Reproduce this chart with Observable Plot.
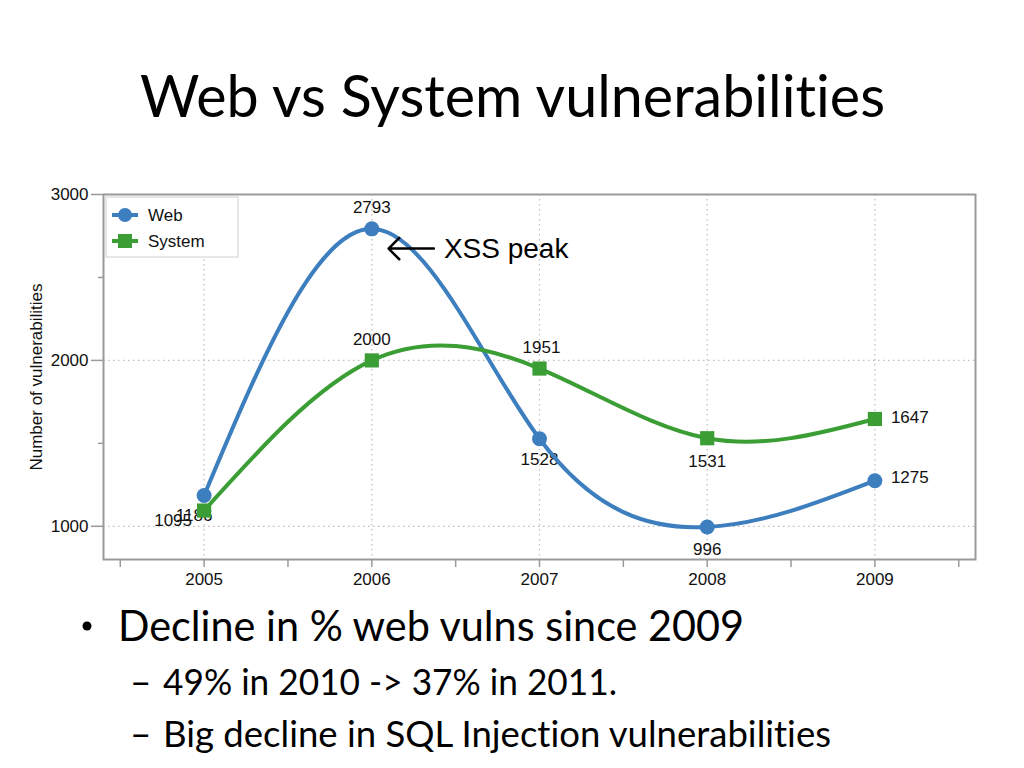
<!DOCTYPE html>
<html>
<head>
<meta charset="utf-8">
<script src="https://cdn.jsdelivr.net/npm/d3@7"></script>
<script src="https://cdn.jsdelivr.net/npm/@observablehq/plot@0.6"></script>
<style>
  html, body { margin: 0; padding: 0; background: #fff; }
  #page { position: relative; width: 1024px; height: 768px; overflow: hidden; background: #fff; }
  #chart { position: absolute; left: 0; top: 180px; }
  #overlay { position: absolute; left: 0; top: 0; pointer-events: none; font-variant-ligatures: none; }
  #chart svg text { font-variant-ligatures: none; }
  #chart g[aria-label="x-axis tick label"], #chart g[aria-label="y-axis tick label"], #chart g[aria-label="y-axis label"] { font-size: 17px; }
</style>
</head>
<body>
<div id="page">
  <div id="chart"></div>
  <svg id="overlay" width="1024" height="768"></svg>
</div>
<script>
// ---- data ----
const years = [2005, 2006, 2007, 2008, 2009];
const seriesNames = ["Web", "System"];
const webValues = [1186, 2793, 1528, 996, 1275];
const systemValues = [1095, 2000, 1951, 1531, 1647];
const xTickValues = [2004.5, 2005, 2005.5, 2006, 2006.5, 2007, 2007.5, 2008, 2008.5, 2009, 2009.5];
const yMajorTicks = [1000, 2000, 3000];
const yMinorTicks = [1500, 2500];
const gridYValues = [1000, 2000];
const titleText = "Web vs System vulnerabilities";
const yAxisTitle = "Number of vulnerabilities";
const annotationText = "XSS peak";
const annotationYears = [2006.37, 2006.1];   // arrow tail, arrow head
const annotationValue = 2674;
const bulletMain = "Decline in % web vulns since 2009";
const bulletSubs = ["49% in 2010 -> 37% in 2011.", "Big decline in SQL Injection vulnerabilities"];

// ---- styles ----
const colors = {Web: "#3d7ebf", System: "#3a9e35"};
const labelOffsets = {
  "Web-2005": {dx: -10, dy: 20, anchor: "middle"},
  "System-2005": {dx: -31, dy: 10, anchor: "middle"},
  "Web-2006": {dx: 0, dy: -21, anchor: "middle"},
  "System-2006": {dx: 0, dy: -21, anchor: "middle"},
  "Web-2007": {dx: 0, dy: 21, anchor: "middle"},
  "System-2007": {dx: 2, dy: -21, anchor: "middle"},
  "Web-2008": {dx: 0, dy: 23, anchor: "middle"},
  "System-2008": {dx: 0, dy: 23, anchor: "middle"},
  "Web-2009": {dx: 16, dy: -3, anchor: "start"},
  "System-2009": {dx: 16, dy: -1, anchor: "start"}
};

const rows = years.flatMap((year, i) => [
  {series: "Web", year, value: webValues[i]},
  {series: "System", year, value: systemValues[i]}
]);
const webRows = rows.filter(d => d.series === "Web");
const sysRows = rows.filter(d => d.series === "System");

const labelMarks = rows.map(r => {
  const o = labelOffsets[`${r.series}-${r.year}`];
  return Plot.text([r], {x: "year", y: "value", text: d => String(d.value),
    dx: o.dx, dy: o.dy, textAnchor: o.anchor, fill: "#111", fontSize: 17});
});

const chart = Plot.plot({
  width: 1024,
  height: 420,
  marginLeft: 103,
  marginRight: 49,
  marginTop: 14,
  marginBottom: 41,
  x: {domain: [2004.4, 2009.6]},
  y: {domain: [800, 3000]},
  style: {fontFamily: "'Liberation Sans', Arial, Helvetica, sans-serif", fontSize: "17px", background: "transparent", color: "#111"},
  marks: [
    Plot.ruleX(years, {x: d => d, stroke: "#bdbdbd", strokeDasharray: "1.5,3.5", strokeWidth: 1.2}),
    Plot.ruleY(gridYValues, {y: d => d, stroke: "#bdbdbd", strokeDasharray: "1.5,3.5", strokeWidth: 1.2}),
    Plot.frame({stroke: "#9a9a9a", strokeWidth: 2}),
    Plot.axisX({ticks: xTickValues, tickSize: 8, tickPadding: 5, tickFormat: d => Number.isInteger(d) ? String(d) : "",
      label: null, stroke: "#9a9a9a", strokeWidth: 1.5, fill: "#111", fontSize: 17}),
    Plot.axisY({ticks: yMajorTicks, tickSize: 12, tickPadding: 3, tickFormat: d => String(d),
      label: yAxisTitle, labelAnchor: "center", labelOffset: 74, labelArrow: "none",
      stroke: "#9a9a9a", strokeWidth: 1.5, fill: "#111", fontSize: 17}),
    Plot.axisY({ticks: yMinorTicks, tickSize: 5, tickFormat: () => "", label: null, stroke: "#9a9a9a", strokeWidth: 1.5}),
    ...labelMarks,
    Plot.line(webRows, {x: "year", y: "value", stroke: colors.Web, strokeWidth: 4, curve: "natural"}),
    Plot.line(sysRows, {x: "year", y: "value", stroke: colors.System, strokeWidth: 4, curve: "natural"}),
    Plot.dot(webRows, {x: "year", y: "value", r: 7.5, fill: colors.Web, symbol: "circle"}),
    Plot.dot(sysRows, {x: "year", y: "value", r: 8, fill: colors.System, symbol: "square"}),
    Plot.arrow([{}], {x1: () => annotationYears[0], x2: () => annotationYears[1], y1: () => annotationValue, y2: () => annotationValue,
      stroke: "#000", strokeWidth: 2.5, headLength: 12, headAngle: 90}),
    Plot.text([annotationText], {x: () => annotationYears[0] + 0.06, y: () => annotationValue, text: d => d,
      textAnchor: "start", fontSize: 28, fill: "#000"})
  ]
});
document.getElementById("chart").appendChild(chart);

// ---- overlay: title, legend, bullets ----
const svg = d3.select("#overlay");
const textFont = "Lato, 'Open Sans', sans-serif";

svg.append("text").attr("x", 140).attr("y", 117).attr("font-family", textFont).attr("font-size", 58)
  .attr("textLength", 745).attr("lengthAdjust", "spacingAndGlyphs").attr("fill", "#000").text(titleText);

// legend
const lg = svg.append("g");
lg.append("rect").attr("x", 106).attr("y", 197).attr("width", 132).attr("height", 60)
  .attr("fill", "#fff").attr("stroke", "#d0d0d0").attr("stroke-width", 1);
seriesNames.forEach((name, i) => {
  const cy = 215 + i * 26;
  lg.append("line").attr("x1", 112).attr("x2", 138).attr("y1", cy).attr("y2", cy)
    .attr("stroke", colors[name]).attr("stroke-width", 4);
  if (name === "Web") lg.append("circle").attr("cx", 125).attr("cy", cy).attr("r", 7).attr("fill", colors[name]);
  else lg.append("rect").attr("x", 118).attr("y", cy - 7).attr("width", 14).attr("height", 14).attr("fill", colors[name]);
  lg.append("text").attr("x", 148).attr("y", cy + 6).attr("font-family", "'Liberation Sans', Arial, sans-serif")
    .attr("font-size", 17).attr("fill", "#111").text(name);
});

// bullets
svg.append("circle").attr("cx", 87).attr("cy", 626).attr("r", 4.5).attr("fill", "#000");
svg.append("text").attr("x", 118).attr("y", 641).attr("font-family", textFont).attr("font-size", 42)
  .attr("textLength", 626).attr("lengthAdjust", "spacingAndGlyphs").attr("fill", "#000").text(bulletMain);
const subBaselines = [695, 747];
const subWidths = [454, 668];
bulletSubs.forEach((s, i) => {
  svg.append("text").attr("x", 130).attr("y", subBaselines[i]).attr("font-family", textFont).attr("font-size", 37)
    .attr("fill", "#000").text("\u2013");
  svg.append("text").attr("x", 163).attr("y", subBaselines[i]).attr("font-family", textFont).attr("font-size", 37)
    .attr("textLength", subWidths[i]).attr("lengthAdjust", "spacingAndGlyphs").attr("fill", "#000").text(s);
});
</script>
</body>
</html>
